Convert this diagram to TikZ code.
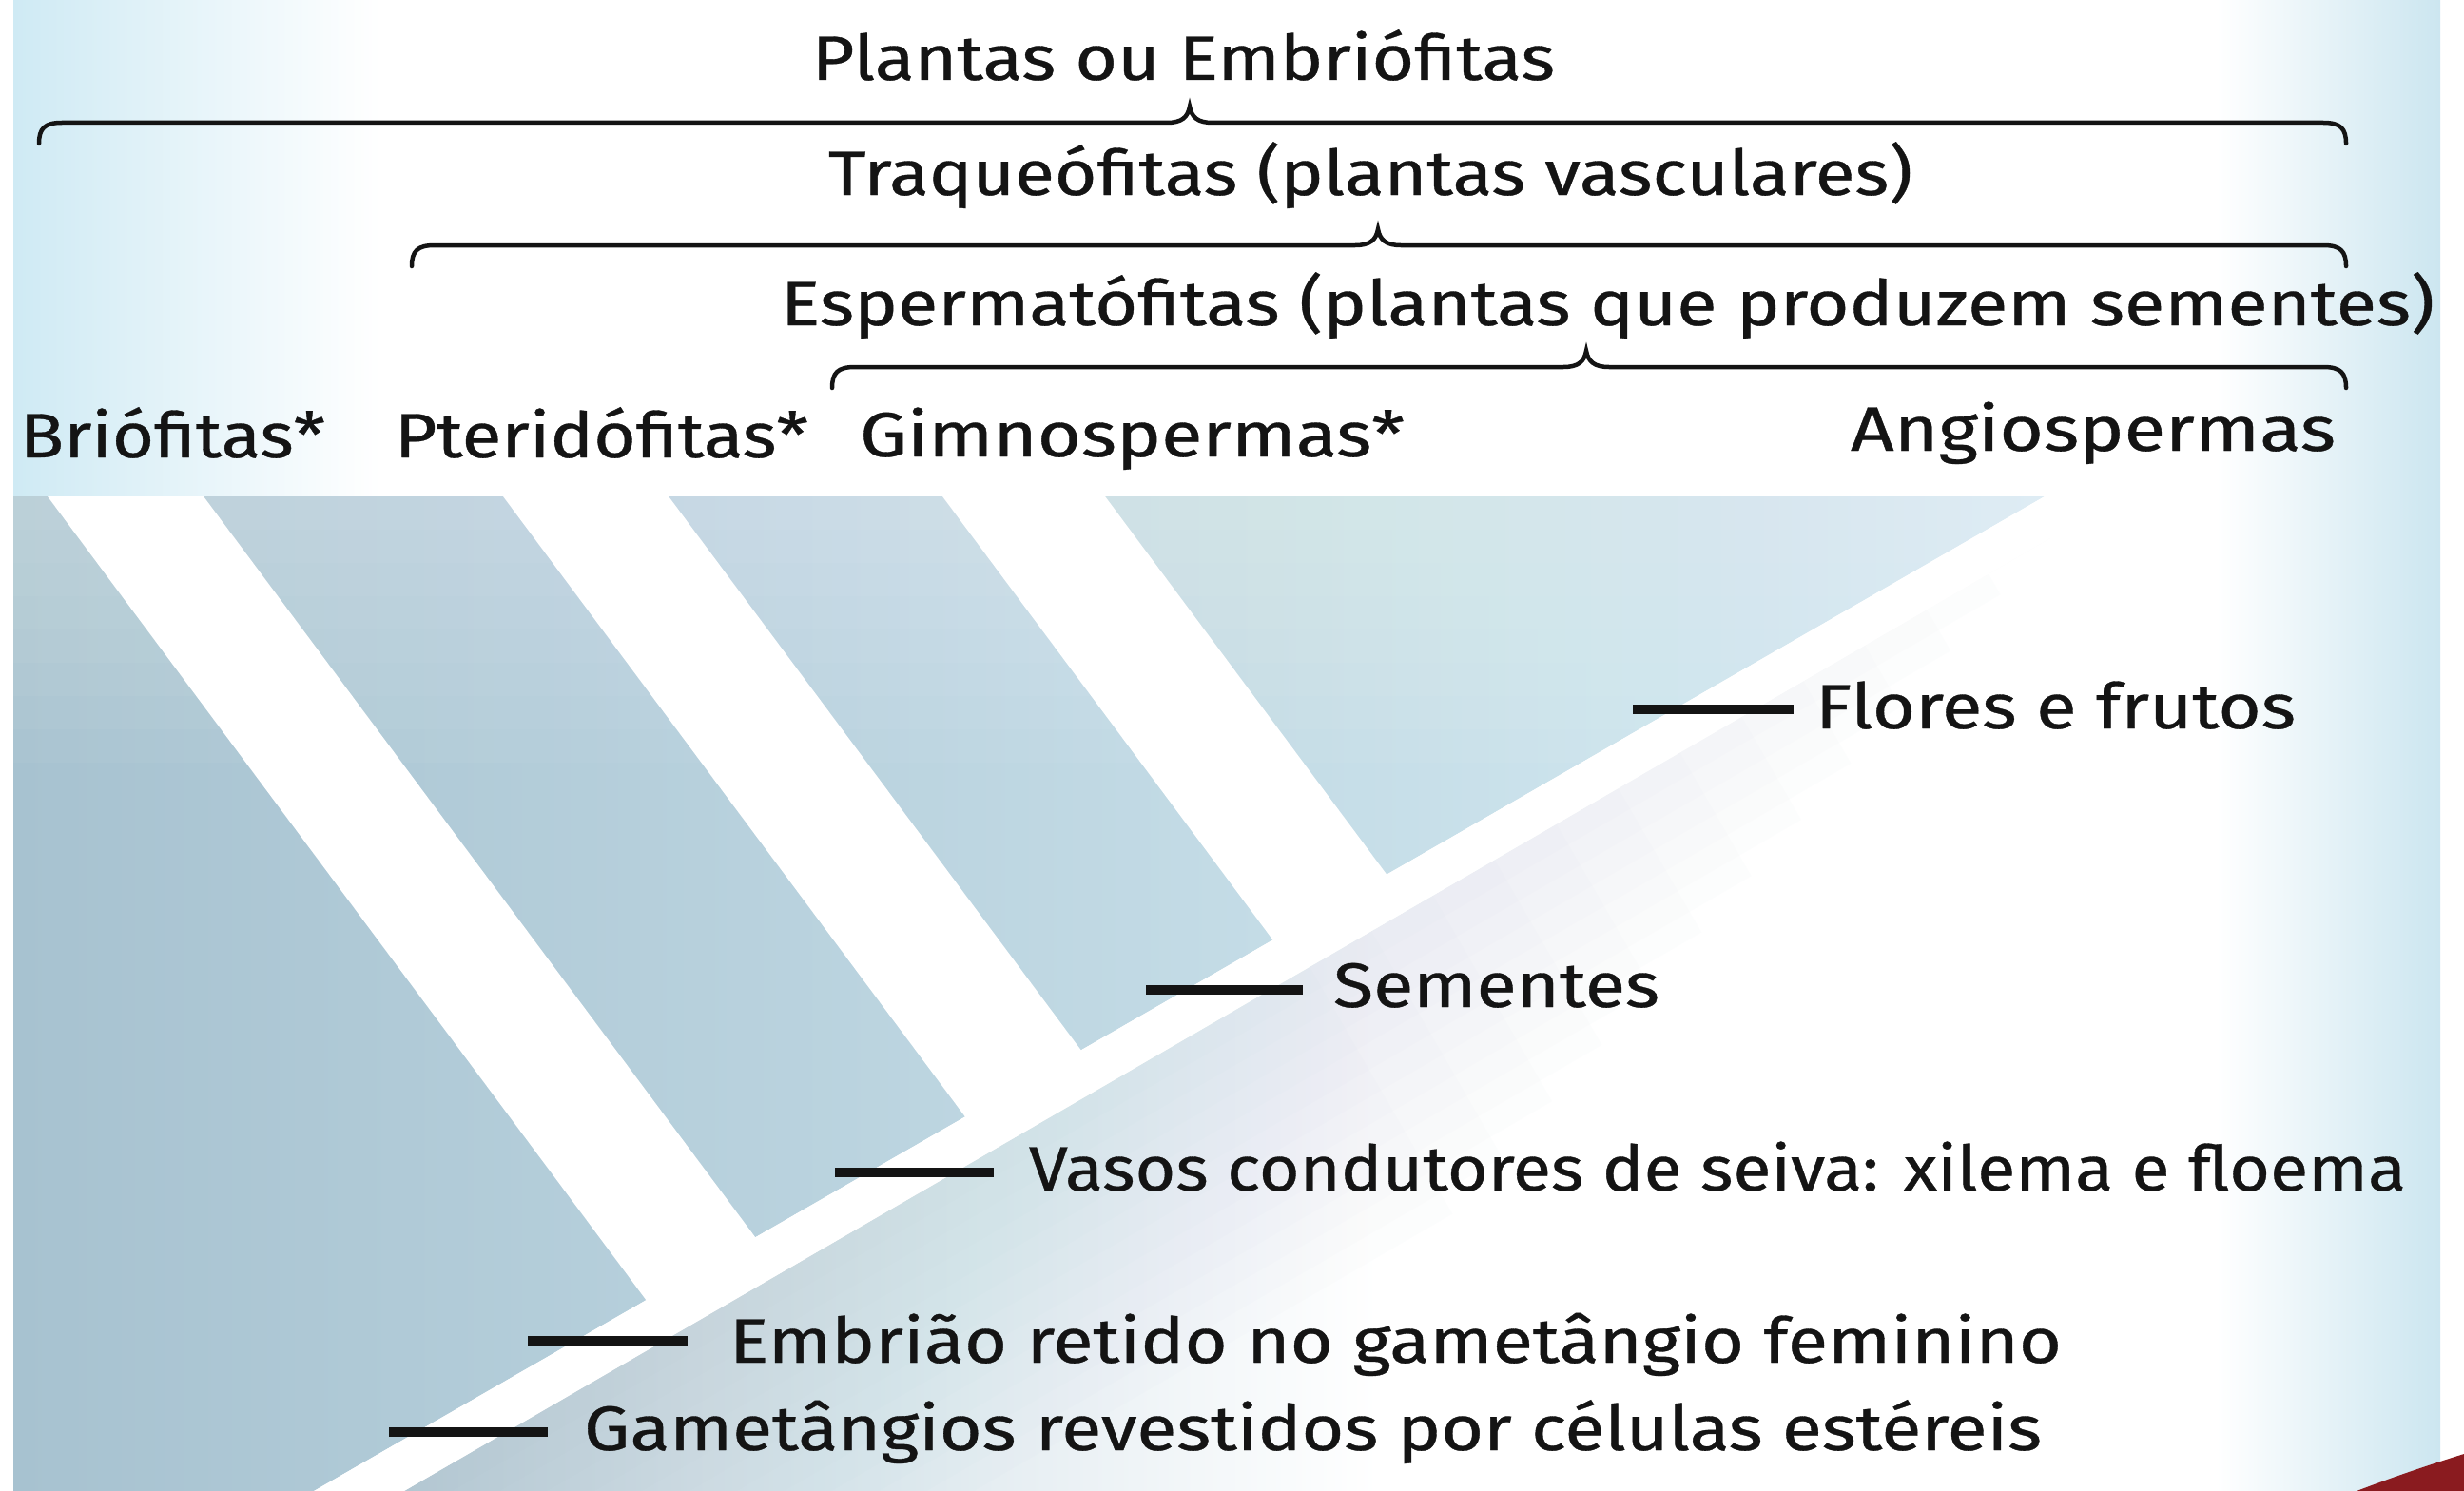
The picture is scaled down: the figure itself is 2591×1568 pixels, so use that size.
\documentclass[tikz,border=0pt]{standalone}
\usepackage{fontspec}
\setmainfont{Fira Sans}[FakeBold=0.5]
\usepackage{graphicx}
\usetikzlibrary{calc}
\definecolor{ink}{HTML}{141414}
\definecolor{bgL}{HTML}{CFEAF4}
\definecolor{bgR}{HTML}{CCE6F0}
\definecolor{blueA}{HTML}{A7C2D0}
\definecolor{blueB}{HTML}{B4CEDB}
\definecolor{blueC}{HTML}{D6ECF4}
\definecolor{shadeL}{HTML}{B9CFDB}
\definecolor{shadeblue}{HTML}{A9C3D1}
\definecolor{corner}{HTML}{8A1B1F}
\newsavebox{\fitbox}
\newcommand{\fitw}[2]{\sbox{\fitbox}{#2}\pgfmathsetmacro{\fitscale}{#1/\the\wd\fitbox}\scalebox{\fitscale}[1]{\usebox{\fitbox}}}
\newcommand{\hbrace}[4]{%
  \draw[bracestyle] (#1,#4+22) .. controls (#1,#4+6) and (#1+6,#4) .. (#1+24,#4) -- (#3-24,#4) .. controls (#3-8,#4) and (#3-2,#4-6) .. (#3,#4-17) .. controls (#3+2,#4-6) and (#3+8,#4) .. (#3+24,#4) -- (#2-24,#4) .. controls (#2-6,#4) and (#2,#4+6) .. (#2,#4+22);}
\begin{document}
\begin{tikzpicture}[x=1pt,y=-1pt,
  lab/.style={anchor=base west,inner sep=0pt,outer sep=0pt,text=ink,font=\fontsize{66}{72}\selectfont},
  tickmark/.style={line width=10pt,draw=ink},
  bracestyle/.style={line width=4.5pt,draw=ink,line cap=round},
  stripe/.style={fill=white}
]
\useasboundingbox (0,0) rectangle (2591,1568);
% background
\fill[white] (0,0) rectangle (2591,1568);
\shade[left color=bgL, right color=white] (14,0) rectangle (400,1568);
\shade[left color=white, right color=bgR] (2330,0) rectangle (2566,1568);
% trunk geometry
\coordinate (uB) at (330,1568); \coordinate (uT) at (2150,522);
\coordinate (lB) at (425,1568); \coordinate (lT) at (2232,522);
\coordinate (cB) at (377.5,1568); \coordinate (cT) at (2191,522);
% blue region
\begin{scope}
\clip (14,522) -- (uT) -- (uB) -- (14,1568) -- cycle;
\shade[left color=blueA, middle color=blueB, right color=blueC] (14,522) rectangle (2150,1568);
\foreach \k in {1,...,8} \fill[white, fill opacity=0.04] (14,522) rectangle (2150,522+\k*35);
\end{scope}
% soft shading below trunk
\begin{scope}
\clip (lB) -- (lT) -- (2591,522) -- (2591,1568) -- cycle;
\shade[left color=shadeL, right color=white] (330,522) rectangle (1450,1568);
\foreach \s [evaluate=\s as \L using 2000-3*\s] in {0,25,...,300} \fill[shadeblue, fill opacity=0.025]
  ($(lB)+(\s*0.501-1500*0.8655, \s*0.8655+1500*0.501)$) --
  ($(lB)+(\s*0.501+\L*0.8655, \s*0.8655-\L*0.501)$) --
  ($(lB)+(-300*0.501+\L*0.8655, -300*0.8655-\L*0.501)$) --
  ($(lB)+(-300*0.501-1500*0.8655, -300*0.8655+1500*0.501)$) -- cycle;
\end{scope}
% stripes
\fill[stripe] (50,522) -- (214,522) -- (intersection of 214,522--993,1568 and cB--cT) -- (intersection of 50,522--829,1568 and cB--cT) -- cycle;
\fill[stripe] (529,522) -- (703,522) -- (intersection of 703,522--1482,1568 and cB--cT) -- (intersection of 529,522--1308,1568 and cB--cT) -- cycle;
\fill[stripe] (991,522) -- (1162,522) -- (intersection of 1162,522--1941,1568 and cB--cT) -- (intersection of 991,522--1770,1568 and cB--cT) -- cycle;
% trunk
\fill[stripe] (uB) -- (uT) -- (lT) -- (lB) -- cycle;
% red corner
\fill[corner] (2478,1568) .. controls (2520,1552) and (2556,1540) .. (2591,1529) -- (2591,1568) -- cycle;
% braces
\hbrace{41}{2467}{1251}{129}
\hbrace{433}{2467}{1449}{258}
\hbrace{875}{2467}{1668}{386}
% group labels
\node[lab] (plantas) at (854,84) {\fitw{781}{Plantas ou Embriófitas}};
\node[lab] (traq) at (871,205) {\fitw{1140}{Traqueófitas (plantas vasculares)}};
\node[lab] (esperm) at (821,342) {\fitw{1739}{Espermatófitas (plantas que produzem sementes)}};
\node[lab] (brio) at (21,481) {\fitw{321}{Briófitas*}};
\node[lab] (pteri) at (415,481) {\fitw{435}{Pteridófitas*}};
\node[lab] (gimno) at (904,480) {\fitw{573}{Gimnospermas*}};
\node[lab] (angio) at (1946,474) {\fitw{510}{Angiospermas}};
% character labels
\node[lab] (flores) at (1909,766) {\fitw{505}{Flores e frutos}};
\node[lab] (sementes) at (1402,1059) {\fitw{343}{Sementes}};
\node[lab] (vasos) at (1082,1252) {\fitw{1448}{Vasos condutores de seiva: xilema e floema}};
\node[lab] (embriao) at (767,1433) {\fitw{1401}{Embrião retido no gametângio feminino}};
\node[lab] (gamet) at (614,1525) {\fitw{1533}{Gametângios revestidos por células estéreis}};
% ticks
\coordinate (f1) at (1717,746); \coordinate (f2) at (1886,746);
\coordinate (s1) at (1205,1041); \coordinate (s2) at (1370,1041);
\coordinate (v1) at (878,1233); \coordinate (v2) at (1045,1233);
\coordinate (e1) at (555,1410); \coordinate (e2) at (723,1410);
\coordinate (g1) at (409,1506); \coordinate (g2) at (576,1506);
\draw[tickmark] (f1) -- (f2);
\draw[tickmark] (s1) -- (s2);
\draw[tickmark] (v1) -- (v2);
\draw[tickmark] (e1) -- (e2);
\draw[tickmark] (g1) -- (g2);
\end{tikzpicture}
\end{document}
